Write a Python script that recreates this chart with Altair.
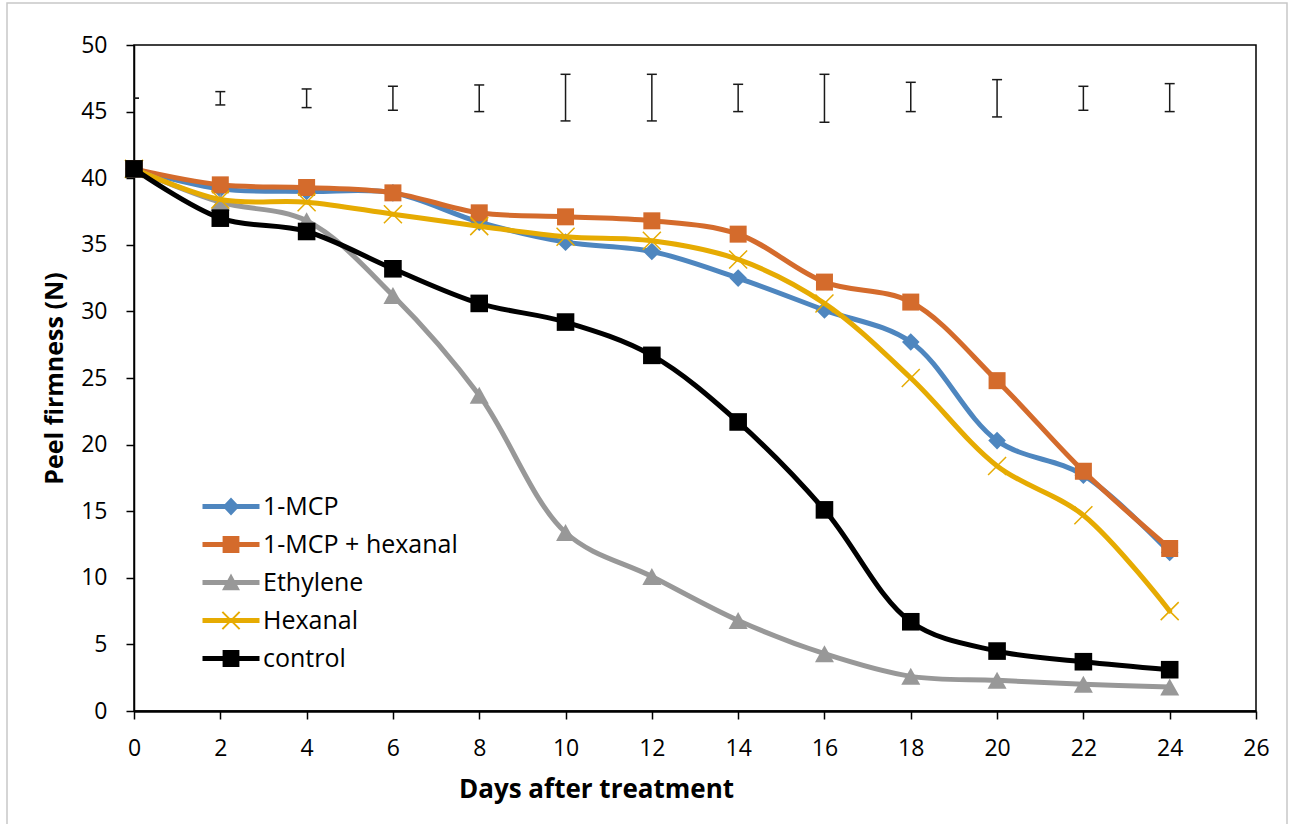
import altair as alt
import pandas as pd

# ---- data ---------------------------------------------------------------
days = [0, 2, 4, 6, 8, 10, 12, 14, 16, 18, 20, 22, 24]
series_names = ["1-MCP", "1-MCP + hexanal", "Ethylene", "Hexanal", "control"]

mcp = [40.7, 39.2, 39.0, 38.9, 36.7, 35.2, 34.5, 32.5, 30.1, 27.7, 20.3, 17.7, 11.9]
mcp_hexanal = [40.7, 39.5, 39.3, 38.9, 37.4, 37.1, 36.8, 35.8, 32.2, 30.7, 24.8, 18.0, 12.2]
ethylene = [40.7, 38.2, 36.8, 31.2, 23.7, 13.4, 10.1, 6.8, 4.3, 2.6, 2.3, 2.0, 1.8]
hexanal = [40.7, 38.4, 38.2, 37.3, 36.4, 35.6, 35.3, 33.9, 30.6, 25.0, 18.4, 14.7, 7.5]
control = [40.7, 37.0, 36.0, 33.2, 30.6, 29.2, 26.7, 21.7, 15.1, 6.7, 4.5, 3.7, 3.1]

# LSD bars drawn above the curves
err_low = [46.0, 45.5, 45.3, 45.1, 45.0, 44.3, 44.3, 45.0, 44.2, 45.0, 44.6, 45.1, 45.0]
err_high = [46.0, 46.5, 46.7, 46.9, 47.0, 47.8, 47.8, 47.05, 47.8, 47.2, 47.4, 46.9, 47.1]

x_ticks = list(range(0, 27, 2))
y_ticks = list(range(0, 51, 5))

series_colors = ["#4E86BF", "#D46B2C", "#989898", "#E6AB02", "#000000"]

# ---- tables -------------------------------------------------------------
series_values = [mcp, mcp_hexanal, ethylene, hexanal, control]
rows = []
for name, vals in zip(series_names, series_values):
    for d, v in zip(days, vals):
        rows.append({"day": d, "firmness": v, "series": name})
df = pd.DataFrame(rows)
err_df = pd.DataFrame({"day": days, "lo": err_low, "hi": err_high})
legend_df = pd.DataFrame({"series": series_names})

# ---- marker shapes (custom symbol paths) --------------------------------
def poly(pts):
    return "M" + " L".join(f"{x:.3f},{y:.3f}" for x, y in pts) + " Z"

marker_paths = [
    poly([(0, -0.88), (0.88, 0), (0, 0.88), (-0.88, 0)]),                 # diamond
    poly([(-0.85, -0.85), (0.85, -0.85), (0.85, 0.85), (-0.85, 0.85)]),   # square
    poly([(0, -0.85), (0.95, 0.85), (-0.95, 0.85)]),                      # triangle
    "M-0.9,-0.9 L0.9,0.9 M-0.9,0.9 L0.9,-0.9",                            # x (stroked)
    poly([(-0.88, -0.88), (0.88, -0.88), (0.88, 0.88), (-0.88, 0.88)]),   # square
]
marker_filled = [True, True, True, False, True]

# legend glyphs: a short line with the series marker on it
xc = 1.375
line_part = poly([(-1, -0.21), (3.75, -0.21), (3.75, 0.21), (-1, 0.21)])
x_glyph = (
    poly([(xc - 0.78, -0.66), (xc - 0.66, -0.78), (xc + 0.78, 0.66), (xc + 0.66, 0.78)])
    + " "
    + poly([(xc + 0.78, -0.66), (xc - 0.66, 0.78), (xc - 0.78, 0.66), (xc + 0.66, -0.78)])
)
legend_paths = [
    line_part + " " + poly([(xc, -0.75), (xc + 0.7, 0), (xc, 0.75), (xc - 0.7, 0)]),
    line_part + " " + poly([(xc - 0.7, -0.7), (xc + 0.7, -0.7), (xc + 0.7, 0.7), (xc - 0.7, 0.7)]),
    line_part + " " + poly([(xc, -0.75), (xc + 0.75, 0.65), (xc - 0.75, 0.65)]),
    line_part + " " + x_glyph,
    line_part + " " + poly([(xc - 0.7, -0.7), (xc + 0.7, -0.7), (xc + 0.7, 0.7), (xc - 0.7, 0.7)]),
]

# ---- scales & axes ------------------------------------------------------
W, H = 1122, 666
FONT = "Open Sans"

x_scale = alt.Scale(domain=[0, 26], nice=False, zero=False)
y_scale = alt.Scale(domain=[0, 50], nice=False, zero=True)

x_axis = alt.Axis(
    title="Days after treatment", values=x_ticks, grid=False,
    tickSize=8, tickWidth=1.5, tickColor="black",
    domainColor="black", domainWidth=2.5,
    labelFont=FONT, labelFontSize=23, labelColor="black", labelPadding=18,
    labelFlush=False, labelOverlap=False,
    titleFont=FONT, titleFontSize=26, titleFontWeight="bold", titleColor="black",
    titleX=462, titleY=78, titleAlign="center", titleBaseline="middle",
)
y_axis = alt.Axis(
    title="Peel firmness (N)", values=y_ticks, grid=False,
    tickSize=8, tickWidth=1.5, tickColor="black",
    domainColor="black", domainWidth=1.5,
    labelFont=FONT, labelFontSize=23, labelColor="black", labelPadding=19,
    labelFlush=False, labelOverlap=False,
    titleFont=FONT, titleFontSize=25, titleFontWeight="bold", titleColor="black",
    titleAngle=270, titleX=-80, titleY=H / 2, titleAlign="center", titleBaseline="middle",
)

def X(field):
    return alt.X(f"{field}:Q", scale=x_scale, axis=x_axis)

def Y(field):
    return alt.Y(f"{field}:Q", scale=y_scale, axis=y_axis)

# ---- layers -------------------------------------------------------------
outer_frame = alt.Chart(pd.DataFrame({"k": [0]})).mark_rect(
    fillOpacity=0, stroke="#C8C8C8", strokeWidth=1.5
).encode(
    x=alt.value(-127), x2=alt.value(1153), y=alt.value(-42), y2=alt.value(790)
)

err_base = alt.Chart(err_df)
err_rule = err_base.mark_rule(color="#1A1A1A", strokeWidth=1.5, clip=True).encode(
    x=X("day"), y=Y("lo"), y2="hi:Q"
)
err_cap_lo = err_base.mark_tick(
    orient="horizontal", size=10, thickness=1.5, color="#1A1A1A", opacity=1, clip=True
).encode(x=X("day"), y=Y("lo"))
err_cap_hi = err_base.mark_tick(
    orient="horizontal", size=10, thickness=1.5, color="#1A1A1A", opacity=1, clip=True
).encode(x=X("day"), y=Y("hi"))

series_layers = []
for name, color, path, filled in zip(series_names, series_colors, marker_paths, marker_filled):
    sub = df[df["series"] == name]
    base = alt.Chart(sub)
    line = base.mark_line(
        interpolate="catmull-rom", color=color, strokeWidth=5,
        strokeCap="round", strokeJoin="round",
    ).encode(x=X("day"), y=Y("firmness"))
    if filled:
        pts = base.mark_point(
            shape=path, size=400, filled=True, color=color, opacity=1, strokeWidth=0
        )
    else:
        pts = base.mark_point(
            shape=path, size=400, filled=False, color=color, opacity=1, strokeWidth=1.5
        )
    pts = pts.encode(x=X("day"), y=Y("firmness"))
    series_layers += [line, pts]

legend_opts = alt.Legend(
    title=None, orient="none", legendX=68, legendY=449, padding=0,
    labelFont=FONT, labelFontSize=25, labelColor="black", labelLimit=400,
    labelOffset=36, rowPadding=12, symbolSize=576, symbolStrokeWidth=0,
    symbolOpacity=1,
)
legend_layer = alt.Chart(legend_df).mark_point(
    filled=True, size=576, opacity=1
).encode(
    x=alt.value(-600), y=alt.value(-600),
    color=alt.Color("series:N", scale=alt.Scale(domain=series_names, range=series_colors),
                    legend=legend_opts),
    shape=alt.Shape("series:N", scale=alt.Scale(domain=series_names, range=legend_paths),
                    legend=legend_opts),
)

chart = alt.layer(
    outer_frame, err_rule, err_cap_lo, err_cap_hi, *series_layers, legend_layer
).properties(
    width=W, height=H,
    autosize=alt.AutoSizeParams(type="none"),
    padding={"left": 134, "top": 45, "right": 35, "bottom": 113},
    background="white",
).configure_view(
    stroke="black", strokeWidth=1.5
)

chart.save("out.html", embed_options={"renderer": "svg", "actions": False})
